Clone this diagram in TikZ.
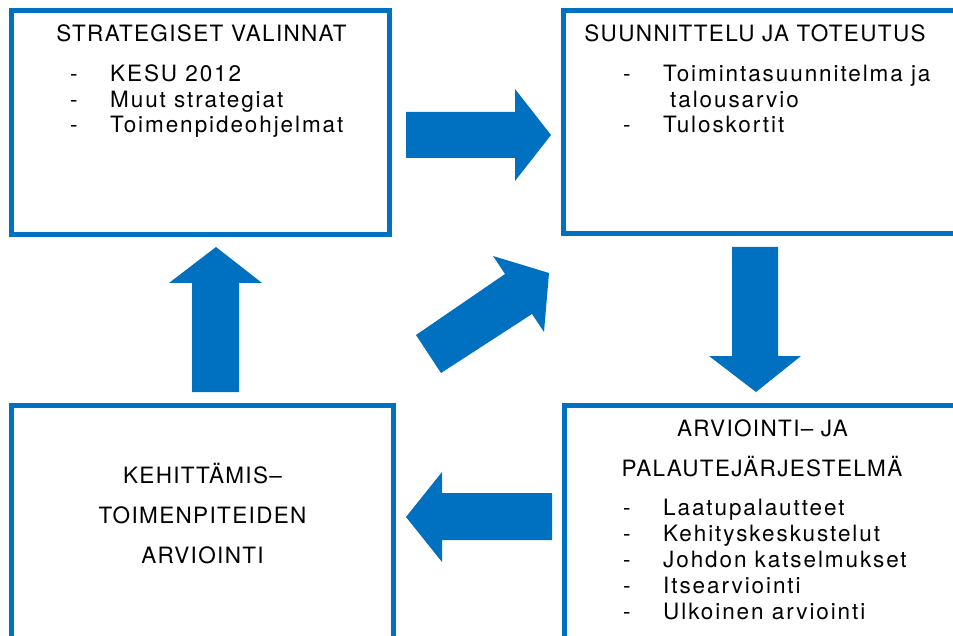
\documentclass[tikz,border=0pt]{standalone}
\usepackage{fontspec}
\setmainfont{TeX Gyre Heros}[LetterSpace=6]
\newfontfamily\itemfont{TeX Gyre Heros}[LetterSpace=8.5]
\definecolor{cycleblue}{RGB}{0,112,192}
\tikzset{
  panel/.style={draw=cycleblue, line width=5pt, rectangle, inner sep=0pt, fill=white},
  blockarrow/.style={fill=cycleblue, draw=none},
  heading/.style={anchor=base, inner sep=0pt, font=\fontsize{22.5}{22.5}\selectfont},
  item/.style={anchor=base west, inner sep=0pt, font=\itemfont\fontsize{22.5}{22.5}\selectfont},
}
\begin{document}
\begin{tikzpicture}[x=1pt,y=-1pt]
\useasboundingbox (0,0) rectangle (953,636);
\clip (0,0) rectangle (953,636);

% the four panels of the cycle
\node[panel, minimum width=378pt, minimum height=224pt] (strat) at (200.5,122.5) {};
\node[panel, minimum width=398pt, minimum height=223pt] (plan) at (762.5,122) {};
\node[panel, minimum width=398pt, minimum height=250pt] (eval) at (763,530) {};
\node[panel, minimum width=382pt, minimum height=250pt] (dev) at (202.5,530) {};

% block arrows between the panels
\draw[blockarrow] (406,112) -- (515,112) -- (515,89) -- (551,135) -- (515,181) -- (515,158) -- (406,158) -- cycle;
\draw[blockarrow] (732,247) -- (778,247) -- (778,356) -- (801,356) -- (756,392) -- (709,356) -- (732,356) -- cycle;
\draw[blockarrow] (552,493) -- (442,493) -- (442,472) -- (406,517) -- (442,562) -- (442,540) -- (552,540) -- cycle;
\draw[blockarrow] (192,392) -- (192,283) -- (169,283) -- (216,247) -- (262,283) -- (239,283) -- (239,392) -- cycle;
\draw[blockarrow] (416,335) -- (505,274) -- (493,256) -- (549,273) -- (544,332) -- (532,314) -- (441,373) -- cycle;

% strategic choices
\node[heading] (t1) at (201.5,42) {STRATEGISET VALINNAT};
\node[item] (d11) at (70,82) {-};
\node[item] (s11) at (110,82) {KESU 2012};
\node[item] (d12) at (70,107.5) {-};
\node[item] (s12) at (110,107.5) {Muut strategiat};
\node[item] (d13) at (70,133) {-};
\node[item] (s13) at (110,133) {Toimenpideohjelmat};

% planning and implementation
\node[heading] (t2) at (755,42) {SUUNNITTELU JA TOTEUTUS};
\node[item] (d21) at (623,82) {-};
\node[item] (s21) at (663,82) {Toimintasuunnitelma ja};
\node[item] (s21b) at (670,107.5) {talousarvio};
\node[item] (d22) at (623,133) {-};
\node[item] (s22) at (663,133) {Tuloskortit};

% evaluation and feedback system
\node[heading] (t3a) at (762.5,436) {ARVIOINTI– JA};
\node[heading] (t3b) at (762,476) {PALAUTEJÄRJESTELMÄ};
\node[item] (d31) at (623,515) {-};
\node[item] (s31) at (663,515) {Laatupalautteet};
\node[item] (d32) at (623,541) {-};
\node[item] (s32) at (663,541) {Kehityskeskustelut};
\node[item] (d33) at (623,567) {-};
\node[item] (s33) at (663,567) {Johdon katselmukset};
\node[item] (d34) at (623,593) {-};
\node[item] (s34) at (663,593) {Itsearviointi};
\node[item] (d35) at (623,619) {-};
\node[item] (s35) at (663,619) {Ulkoinen arviointi};

% evaluation of development measures
\node[heading] (t4a) at (202.5,483) {KEHITTÄMIS–};
\node[heading] (t4b) at (202.5,523) {TOIMENPITEIDEN};
\node[heading] (t4c) at (202.5,563) {ARVIOINTI};
\end{tikzpicture}
\end{document}
